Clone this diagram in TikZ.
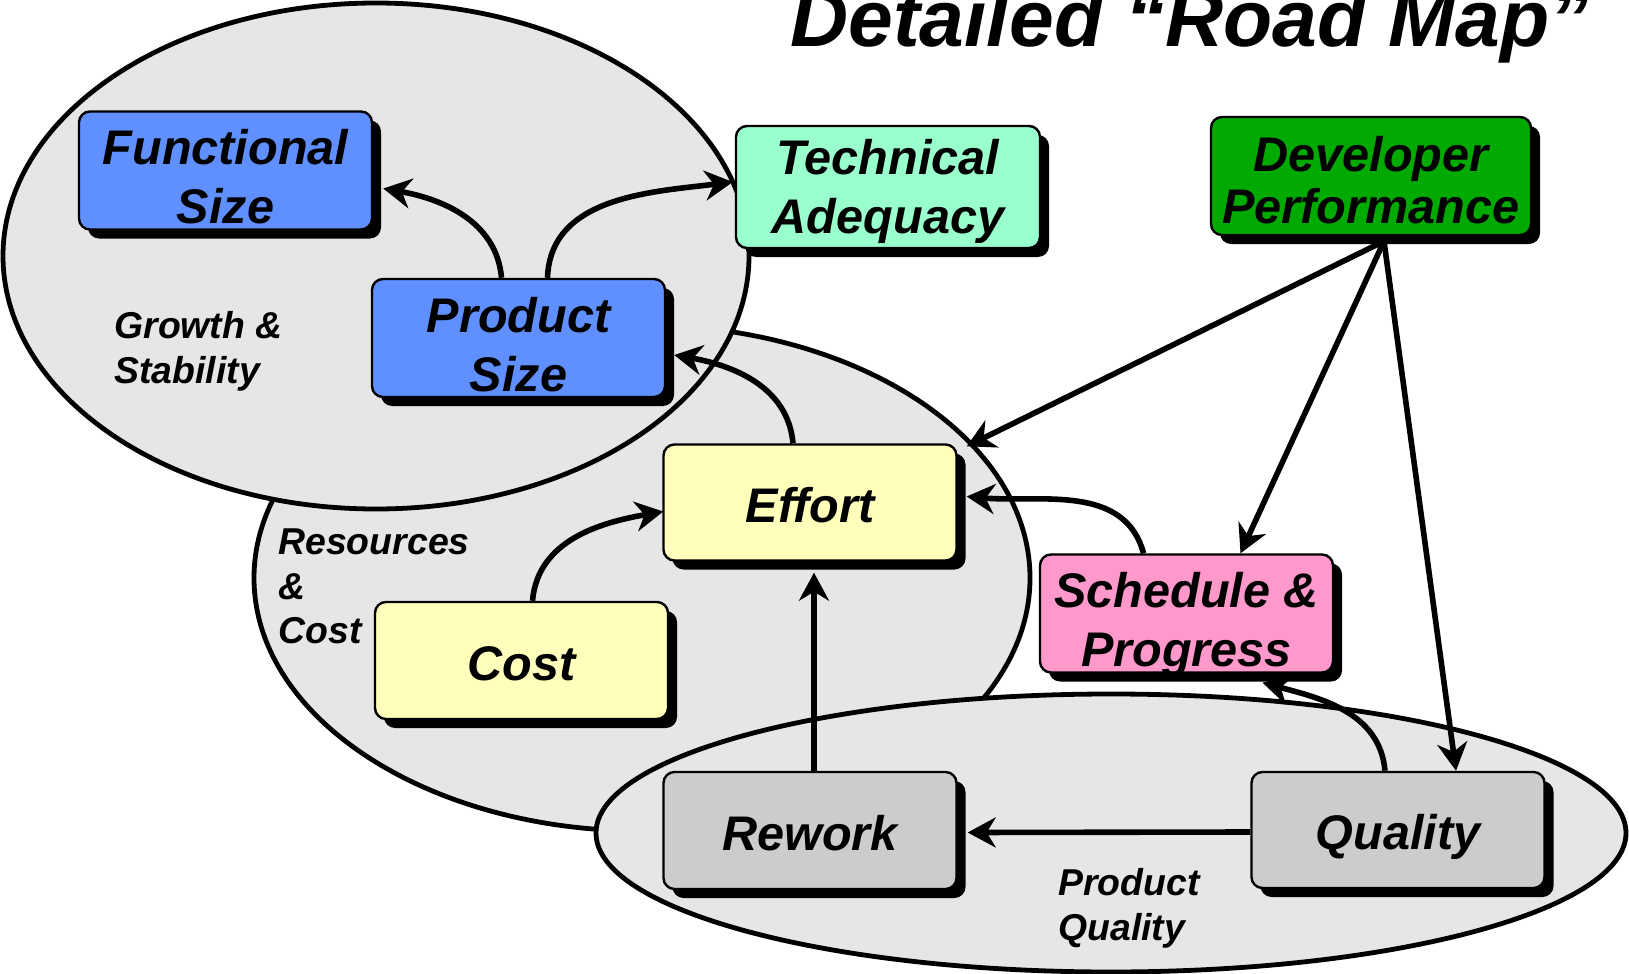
\documentclass[tikz,border=0pt]{standalone}
\usepackage{fontspec}
\setmainfont{Liberation Sans}
\usetikzlibrary{arrows.meta,shadows,calc}
\definecolor{bluebox}{HTML}{6090FF}
\definecolor{mintbox}{HTML}{99FFCC}
\definecolor{greenbox}{HTML}{00AA00}
\definecolor{yellowbox}{HTML}{FFFFBB}
\definecolor{pinkbox}{HTML}{FF99CC}
\definecolor{graybox}{HTML}{CCCCCC}
\definecolor{ellgray}{HTML}{E6E6E6}
\newcommand\boxfont{\fontsize{24.3}{29.5}\selectfont\bfseries\itshape}
\newcommand\devfont{\fontsize{24.3}{26}\selectfont\bfseries\itshape}
\newcommand\lblfont{\fontsize{18.7}{22.25}\selectfont\bfseries\itshape}
\newcommand\titlefont{\fontsize{40.2}{48}\selectfont\bfseries\itshape}
\newcommand\lnA[1]{\smash{#1}\rule[-3pt]{0pt}{29.5pt}}
\newcommand\lnB[1]{\smash{#1}\rule[-5pt]{0pt}{29.5pt}}
\newcommand\lnT[1]{\smash{#1}\rule[-6pt]{0pt}{29.5pt}}
\newcommand\lnD[1]{\smash{#1}\rule[-2.15pt]{0pt}{26pt}}
\tikzset{
  box/.style={draw=black, line width=1.2pt, rounded corners=5.5pt,
    inner sep=0pt, align=center, font=\boxfont,
    drop shadow={shadow xshift=4.5pt, shadow yshift=-4.5pt, fill=black, opacity=1}},
  ell/.style={draw=black, line width=2.4pt, fill=ellgray},
  conn/.style={line width=2.8pt, -{Stealth[length=14pt,width=15pt,inset=4.5pt]}},
  lbl/.style={font=\lblfont, align=left, inner sep=0pt, anchor=north west},
}
\begin{document}
\begin{tikzpicture}[x=0.5pt,y=0.5pt]
\useasboundingbox (0,0) rectangle (1629,-974);
\fill[white] (0,0) rectangle (1629,-974);
% ellipses
\draw[ell] (642,-578) ellipse (388 and 253);
\draw[ell] (376,-256) ellipse (373 and 253);
\draw[ell] (1111,-833) ellipse (515 and 139);
% title
\node[anchor=base west, inner sep=0pt, font=\titlefont] (title) at (790,-47) {Detailed “Road Map”};
% group labels
\node[lbl] (growth) at (114,-307) {Growth \&\strut\\Stability\strut};
\node[lbl] (resources) at (278,-523) {Resources\strut\\\&\strut\\Cost\strut};
\node[lbl] (pquality) at (1058,-864) {Product\strut\\Quality\strut};
% boxes
\node[box, fill=bluebox, minimum width=146.5pt, minimum height=58.5pt] (func) at (225.5,-170.5) {\lnA{Functional}\\\lnA{Size}};
\node[box, fill=bluebox, minimum width=146.5pt, minimum height=59pt] (prod) at (518.5,-338) {\lnA{Product}\\\lnA{Size}};
\node[box, fill=mintbox, minimum width=152pt, minimum height=61pt] (tech) at (888,-187) {\lnT{Technical}\\\lnT{Adequacy}};
\node[box, fill=greenbox, font=\devfont, minimum width=160pt, minimum height=59pt] (dev) at (1371,-176) {\lnD{Developer}\\\lnD{Performance}};
\node[box, fill=yellowbox, minimum width=146.5pt, minimum height=58pt] (effort) at (810,-502.5) {\lnB{Effort}};
\node[box, fill=yellowbox, minimum width=146.5pt, minimum height=58.5pt] (cost) at (521.5,-660.5) {\lnB{Cost}};
\node[box, fill=pinkbox, minimum width=146.5pt, minimum height=58.5pt] (sched) at (1186.5,-613.5) {\lnA{Schedule \&}\\\lnA{Progress}};
\node[box, fill=graybox, minimum width=146.5pt, minimum height=58.5pt] (rework) at (810,-830.5) {\lnB{Rework}};
\node[box, fill=graybox, minimum width=146.5pt, minimum height=58pt] (quality) at (1398,-830) {\lnB{Quality}};
% connectors
\coordinate (devout) at ($(dev.south)+(13,-5)$);
\draw[conn] ($(prod.north)+(-17,0)$) to[out=95,in=-10] ($(func.east)+(10,-18)$);
\draw[conn] ($(prod.north)+(29,0)$) to[out=88,in=187] ($(tech.west)+(-2,5)$);
\draw[conn] ($(effort.north)+(-17,0)$) to[out=95,in=-10] ($(prod.east)+(8,-17)$);
\draw[conn] ($(cost.north)+(11,0)$) to[out=85,in=190] ($(effort.west)+(1,-9)$);
\draw[conn] ($(sched.north)+(-43,0)$) to[out=105,in=-5] ($(effort.east)+(9,6)$);
\draw[conn] ($(rework.north)+(4,0)$) -- ($(effort.south)+(4,-11)$);
\draw[conn] ($(quality.west)+(0,-2)$) -- ($(rework.east)+(10,-2)$);
\draw[conn] ($(quality.north)+(-13,0)$) to[out=95,in=-15] ($(sched.south)+(76,-9)$);
\draw[conn] (devout) -- ($(effort.north east)+(9,-3)$);
\draw[conn] (devout) -- ($(sched.north)+(54,0)$);
\draw[conn] (devout) -- ($(quality.north)+(58,0)$);
\end{tikzpicture}
\end{document}
